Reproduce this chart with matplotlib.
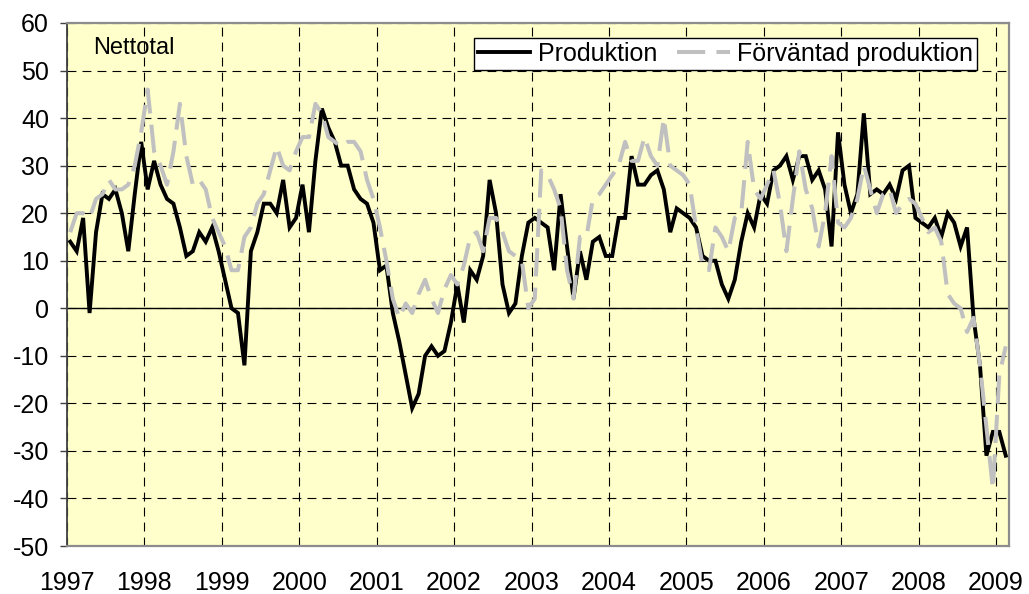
import numpy as np
import matplotlib
matplotlib.use("Agg")
import matplotlib.pyplot as plt

# ---- data (monthly, Jan 1997 - Feb 2009) ----
year_labels = ["1997", "1998", "1999", "2000", "2001", "2002", "2003",
               "2004", "2005", "2006", "2007", "2008", "2009"]

produktion = [
    14, 12, 19, -1, 16, 24, 23, 25, 20, 12, 24, 35,      # 1997
    25, 31, 26, 23, 22, 17, 11, 12, 16, 14, 17, 12,      # 1998
    6, 0, -1, -12, 12, 16, 22, 22, 20, 27, 17, 19,       # 1999
    26, 16, 31, 42, 38, 35, 30, 30, 25, 23, 22, 18,      # 2000
    8, 9, -1, -7, -14, -21, -18, -10, -8, -10, -9, -3,   # 2001
    5, -3, 8, 6, 11, 27, 20, 5, -1, 1, 11, 18,           # 2002
    19, 18, 17, 8, 24, 13, 2, 12, 6, 14, 15, 11,         # 2003
    11, 19, 19, 32, 26, 26, 28, 29, 25, 16, 21, 20,      # 2004
    19, 17, 11, 10, 10, 5, 2, 6, 14, 20, 17, 24,         # 2005
    22, 29, 30, 32, 27, 32, 32, 27, 29, 25, 13, 37,      # 2006
    26, 20, 24, 41, 24, 25, 24, 26, 23, 29, 30, 19,      # 2007
    18, 17, 19, 15, 20, 18, 13, 17, -2, -12, -31, -26,   # 2008
    -26, -31,                                            # 2009
]

forvantad = [
    16, 20, 20, 19, 23, 24, 27, 25, 25, 26, 30, 37,      # 1997
    46, 33, 30, 26, 33, 43, 32, 26, 27, 25, 19, 16,      # 1998
    13, 8, 8, 15, 17, 22, 24, 29, 34, 30, 29, 33,        # 1999
    36, 36, 43, 41, 36, 35, 34, 35, 35, 33, 27, 23,      # 2000
    17, 10, 2, -2, 1, -1, 3, 6, 2, -1, 4, 7,             # 2001
    5, 9, 15, 16, 12, 19, 19, 16, 12, 11, 10, 0,         # 2002
    2, 29, 28, 25, 21, 8, 2, 15, 15, 23, 24, 26,         # 2003
    28, 30, 35, 31, 31, 36, 32, 30, 40, 30, 29, 28,      # 2004
    26, 17, 9, 8, 17, 15, 12, 19, 20, 35, 25, 23,        # 2005
    26, 29, 22, 12, 23, 33, 25, 21, 13, 20, 32, 18,      # 2006
    17, 19, 23, 30, 25, 20, 24, 25, 20, 22, 23, 22,      # 2007
    19, 16, 17, 14, 3, 1, 0, -5, -2, -12, -25, -38,      # 2008
    -14, -8,                                             # 2009
]

label_prod = "Produktion"
label_forv = "Förväntad produktion"
panel_title = "Nettotal"

# ---- figure ----
plt.rcParams["font.family"] = ["Liberation Sans", "DejaVu Sans"]
plt.rcParams["axes.unicode_minus"] = False
fig = plt.figure(figsize=(10.29, 5.94), dpi=100)
ax = fig.add_axes([67 / 1029, 48 / 594, 942 / 1029, 523 / 594])
ax.set_facecolor("#FFFFCC")

n = len(produktion)
x = np.arange(n) + 0.5

ax.plot(x, produktion, color="black", lw=2.8, solid_joinstyle="miter",
        label=label_prod, zorder=3)
ax.plot(x, forvantad, color="#C0C0C0", lw=2.9, dashes=(7, 2.8),
        label=label_forv, zorder=4)

ax.set_xlim(0, n)
ax.set_ylim(-50, 60)
ax.set_yticks(np.arange(-50, 61, 10))
ax.set_xticks(np.arange(0, 12 * len(year_labels), 12))
ax.set_xticklabels(year_labels)

# grid
ax.grid(True, which="major", axis="both", color="black", lw=0.8,
        linestyle=(0, (8, 5.5)), zorder=1)
ax.axhline(0, color="black", lw=1.0, zorder=2)

ax.tick_params(axis="x", length=0, pad=18, labelsize=18)
ax.tick_params(axis="y", length=5, width=1, color="#404040", pad=8,
               labelsize=18, direction="out")

for side in ["top", "right", "bottom"]:
    ax.spines[side].set_color("#8C8C8C")
    ax.spines[side].set_linewidth(1.6)
ax.spines["left"].set_color("#404040")
ax.spines["left"].set_linewidth(1.3)

ax.text(26 / 942, (546 - 48) / 523, panel_title, transform=ax.transAxes,
        fontsize=17, ha="left", va="center")

leg = ax.legend(loc="upper right", bbox_to_anchor=((977 - 67) / 942, (546 - 38) / 523),
                ncol=2, fontsize=18, frameon=True, fancybox=False,
                borderaxespad=0, borderpad=0.15, handlelength=2.1,
                handletextpad=0.3, columnspacing=0.8)
leg.get_frame().set_edgecolor("black")
leg.get_frame().set_linewidth(1.0)
leg.get_frame().set_facecolor("white")
leg.get_frame().set_alpha(1)

fig.savefig("out.png", dpi=100, facecolor="white")
